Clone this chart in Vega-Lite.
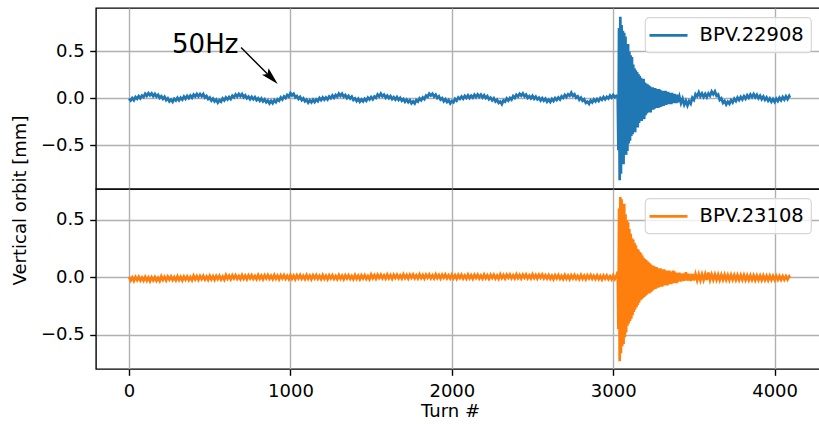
{
  "$schema": "https://vega.github.io/schema/vega-lite/v6.json",
  "background": "white",
  "padding": {"left": 10, "top": 7, "right": 0, "bottom": 0},
  "spacing": 0,
  "bounds": "flush",
  "config": {
    "font": "DejaVu Sans",
    "view": {"stroke": "black", "strokeWidth": 1.4},
    "axis": {
      "labelFont": "DejaVu Sans", "labelFontSize": 18, "labelColor": "black",
      "titleFont": "DejaVu Sans", "titleFontSize": 18, "titleFontWeight": "normal", "titleColor": "black",
      "gridColor": "#b0b0b0", "gridWidth": 1.4, "gridOpacity": 1,
      "tickColor": "black", "tickWidth": 1.4, "tickSize": 6.3,
      "domain": false
    },
    "legend": {
      "orient": "none", "legendX": 549, "legendY": 9.4,
      "padding": 7, "strokeColor": "#d6d6d6", "strokeWidth": 1.2,
      "fillColor": "rgba(255,255,255,0.8)", "cornerRadius": 4,
      "symbolType": "M-2,0H2", "symbolSize": 361, "symbolStrokeWidth": 2.7, "symbolOffset": 5.5,
      "labelOffset": 20, "labelFont": "DejaVu Sans", "labelFontSize": 19.5, "labelColor": "black",
      "title": null
    },
    "text": {"font": "DejaVu Sans"}
  },
  "datasets": {
    "orbit": [
      {"turn":0,"v22908":-0.001,"v23108":0.005},{"turn":10,"v22908":-0.022,"v23108":-0.026},{"turn":20,"v22908":0.004,"v23108":0.0},{"turn":30,"v22908":-0.018,"v23108":-0.03},{"turn":40,"v22908":0.015,"v23108":0.003},
      {"turn":50,"v22908":-0.003,"v23108":-0.023},{"turn":60,"v22908":0.025,"v23108":0.004},{"turn":70,"v22908":0.002,"v23108":-0.027},{"turn":80,"v22908":0.031,"v23108":-0.002},{"turn":90,"v22908":0.015,"v23108":-0.029},
      {"turn":100,"v22908":0.049,"v23108":0.003},{"turn":110,"v22908":0.027,"v23108":-0.028},{"turn":120,"v22908":0.056,"v23108":-0.002},{"turn":130,"v22908":0.033,"v23108":-0.032},{"turn":140,"v22908":0.054,"v23108":0.001},
      {"turn":150,"v22908":0.024,"v23108":-0.025},{"turn":160,"v22908":0.048,"v23108":0.002},{"turn":170,"v22908":0.02,"v23108":-0.029},{"turn":180,"v22908":0.039,"v23108":-0.004},{"turn":190,"v22908":0.005,"v23108":-0.031},
      {"turn":200,"v22908":0.024,"v23108":0.009},{"turn":210,"v22908":-0.005,"v23108":-0.022},{"turn":220,"v22908":0.018,"v23108":0.004},{"turn":230,"v22908":-0.017,"v23108":-0.026},{"turn":240,"v22908":0.001,"v23108":0.007},
      {"turn":250,"v22908":-0.031,"v23108":-0.019},{"turn":260,"v22908":-0.012,"v23108":0.008},{"turn":270,"v22908":-0.036,"v23108":-0.023},{"turn":280,"v22908":-0.003,"v23108":0.002},{"turn":290,"v22908":-0.022,"v23108":-0.025},
      {"turn":300,"v22908":0.006,"v23108":0.009},{"turn":310,"v22908":-0.02,"v23108":-0.022},{"turn":320,"v22908":0.007,"v23108":0.004},{"turn":330,"v22908":-0.012,"v23108":-0.026},{"turn":340,"v22908":0.02,"v23108":0.007},
      {"turn":350,"v22908":-0.003,"v23108":-0.019},{"turn":360,"v22908":0.026,"v23108":0.008},{"turn":370,"v22908":0.004,"v23108":-0.023},{"turn":380,"v22908":0.03,"v23108":0.002},{"turn":390,"v22908":0.008,"v23108":-0.025},
      {"turn":400,"v22908":0.04,"v23108":0.014},{"turn":410,"v22908":0.02,"v23108":-0.017},{"turn":420,"v22908":0.048,"v23108":0.009},{"turn":430,"v22908":0.022,"v23108":-0.021},{"turn":440,"v22908":0.047,"v23108":0.012},
      {"turn":450,"v22908":0.024,"v23108":-0.014},{"turn":460,"v22908":0.046,"v23108":0.013},{"turn":470,"v22908":0.01,"v23108":-0.018},{"turn":480,"v22908":0.026,"v23108":0.007},{"turn":490,"v22908":-0.007,"v23108":-0.02},
      {"turn":500,"v22908":0.01,"v23108":0.014},{"turn":510,"v22908":-0.023,"v23108":-0.017},{"turn":520,"v22908":-0.001,"v23108":0.009},{"turn":530,"v22908":-0.031,"v23108":-0.021},{"turn":540,"v22908":-0.012,"v23108":0.012},
      {"turn":550,"v22908":-0.044,"v23108":-0.014},{"turn":560,"v22908":-0.018,"v23108":0.013},{"turn":570,"v22908":-0.035,"v23108":-0.018},{"turn":580,"v22908":0.0,"v23108":0.007},{"turn":590,"v22908":-0.021,"v23108":-0.02},
      {"turn":600,"v22908":0.01,"v23108":0.019},{"turn":610,"v22908":-0.011,"v23108":-0.012},{"turn":620,"v22908":0.015,"v23108":0.014},{"turn":630,"v22908":-0.006,"v23108":-0.016},{"turn":640,"v22908":0.029,"v23108":0.017},
      {"turn":650,"v22908":0.012,"v23108":-0.009},{"turn":660,"v22908":0.043,"v23108":0.018},{"turn":670,"v22908":0.019,"v23108":-0.013},{"turn":680,"v22908":0.047,"v23108":0.012},{"turn":690,"v22908":0.023,"v23108":-0.015},
      {"turn":700,"v22908":0.047,"v23108":0.019},{"turn":710,"v22908":0.014,"v23108":-0.012},{"turn":720,"v22908":0.034,"v23108":0.014},{"turn":730,"v22908":0.003,"v23108":-0.016},{"turn":740,"v22908":0.02,"v23108":0.017},
      {"turn":750,"v22908":-0.009,"v23108":-0.009},{"turn":760,"v22908":0.017,"v23108":0.018},{"turn":770,"v22908":-0.009,"v23108":-0.013},{"turn":780,"v22908":0.013,"v23108":0.012},{"turn":790,"v22908":-0.019,"v23108":-0.015},
      {"turn":800,"v22908":0.001,"v23108":0.02},{"turn":810,"v22908":-0.025,"v23108":-0.011},{"turn":820,"v22908":0.0,"v23108":0.015},{"turn":830,"v22908":-0.031,"v23108":-0.015},{"turn":840,"v22908":-0.01,"v23108":0.018},
      {"turn":850,"v22908":-0.04,"v23108":-0.008},{"turn":860,"v22908":-0.022,"v23108":0.019},{"turn":870,"v22908":-0.052,"v23108":-0.012},{"turn":880,"v22908":-0.026,"v23108":0.013},{"turn":890,"v22908":-0.05,"v23108":-0.014},
      {"turn":900,"v22908":-0.019,"v23108":0.02},{"turn":910,"v22908":-0.04,"v23108":-0.011},{"turn":920,"v22908":-0.009,"v23108":0.015},{"turn":930,"v22908":-0.024,"v23108":-0.015},{"turn":940,"v22908":0.011,"v23108":0.018},
      {"turn":950,"v22908":-0.011,"v23108":-0.008},{"turn":960,"v22908":0.022,"v23108":0.019},{"turn":970,"v22908":0.005,"v23108":-0.012},{"turn":980,"v22908":0.036,"v23108":0.013},{"turn":990,"v22908":0.019,"v23108":-0.014},
      {"turn":1000,"v22908":0.057,"v23108":0.02},{"turn":1010,"v22908":0.033,"v23108":-0.011},{"turn":1020,"v22908":0.049,"v23108":0.015},{"turn":1030,"v22908":0.011,"v23108":-0.015},{"turn":1040,"v22908":0.025,"v23108":0.018},
      {"turn":1050,"v22908":-0.005,"v23108":-0.008},{"turn":1060,"v22908":0.016,"v23108":0.019},{"turn":1070,"v22908":-0.017,"v23108":-0.012},{"turn":1080,"v22908":0.002,"v23108":0.013},{"turn":1090,"v22908":-0.03,"v23108":-0.014},
      {"turn":1100,"v22908":-0.014,"v23108":0.02},{"turn":1110,"v22908":-0.045,"v23108":-0.011},{"turn":1120,"v22908":-0.019,"v23108":0.015},{"turn":1130,"v22908":-0.041,"v23108":-0.015},{"turn":1140,"v22908":-0.013,"v23108":0.018},
      {"turn":1150,"v22908":-0.038,"v23108":-0.008},{"turn":1160,"v22908":-0.011,"v23108":0.019},{"turn":1170,"v22908":-0.029,"v23108":-0.012},{"turn":1180,"v22908":0.005,"v23108":0.013},{"turn":1190,"v22908":-0.018,"v23108":-0.014},
      {"turn":1200,"v22908":0.01,"v23108":0.019},{"turn":1210,"v22908":-0.013,"v23108":-0.012},{"turn":1220,"v22908":0.01,"v23108":0.014},{"turn":1230,"v22908":-0.012,"v23108":-0.016},{"turn":1240,"v22908":0.021,"v23108":0.017},
      {"turn":1250,"v22908":0.002,"v23108":-0.009},{"turn":1260,"v22908":0.032,"v23108":0.018},{"turn":1270,"v22908":0.008,"v23108":-0.013},{"turn":1280,"v22908":0.036,"v23108":0.012},{"turn":1290,"v22908":0.018,"v23108":-0.015},
      {"turn":1300,"v22908":0.051,"v23108":0.019},{"turn":1310,"v22908":0.027,"v23108":-0.012},{"turn":1320,"v22908":0.05,"v23108":0.014},{"turn":1330,"v22908":0.019,"v23108":-0.016},{"turn":1340,"v22908":0.036,"v23108":0.017},
      {"turn":1350,"v22908":0.004,"v23108":-0.009},{"turn":1360,"v22908":0.027,"v23108":0.018},{"turn":1370,"v22908":0.0,"v23108":-0.013},{"turn":1380,"v22908":0.019,"v23108":0.012},{"turn":1390,"v22908":-0.016,"v23108":-0.015},
      {"turn":1400,"v22908":0.001,"v23108":0.019},{"turn":1410,"v22908":-0.027,"v23108":-0.012},{"turn":1420,"v22908":-0.003,"v23108":0.014},{"turn":1430,"v22908":-0.034,"v23108":-0.016},{"turn":1440,"v22908":-0.011,"v23108":0.017},
      {"turn":1450,"v22908":-0.032,"v23108":-0.009},{"turn":1460,"v22908":-0.004,"v23108":0.018},{"turn":1470,"v22908":-0.025,"v23108":-0.013},{"turn":1480,"v22908":0.008,"v23108":0.012},{"turn":1490,"v22908":-0.012,"v23108":-0.015},
      {"turn":1500,"v22908":0.015,"v23108":0.024},{"turn":1510,"v22908":-0.008,"v23108":-0.007},{"turn":1520,"v22908":0.021,"v23108":0.019},{"turn":1530,"v22908":0.006,"v23108":-0.011},{"turn":1540,"v22908":0.042,"v23108":0.022},
      {"turn":1550,"v22908":0.022,"v23108":-0.004},{"turn":1560,"v22908":0.052,"v23108":0.023},{"turn":1570,"v22908":0.023,"v23108":-0.008},{"turn":1580,"v22908":0.04,"v23108":0.017},{"turn":1590,"v22908":0.008,"v23108":-0.01},
      {"turn":1600,"v22908":0.031,"v23108":0.024},{"turn":1610,"v22908":0.003,"v23108":-0.007},{"turn":1620,"v22908":0.025,"v23108":0.019},{"turn":1630,"v22908":-0.007,"v23108":-0.011},{"turn":1640,"v22908":0.013,"v23108":0.022},
      {"turn":1650,"v22908":-0.012,"v23108":-0.004},{"turn":1660,"v22908":0.014,"v23108":0.023},{"turn":1670,"v22908":-0.016,"v23108":-0.008},{"turn":1680,"v22908":0.006,"v23108":0.017},{"turn":1690,"v22908":-0.024,"v23108":-0.01},
      {"turn":1700,"v22908":-0.006,"v23108":0.025},{"turn":1710,"v22908":-0.036,"v23108":-0.006},{"turn":1720,"v22908":-0.012,"v23108":0.02},{"turn":1730,"v22908":-0.039,"v23108":-0.01},{"turn":1740,"v22908":-0.018,"v23108":0.023},
      {"turn":1750,"v22908":-0.051,"v23108":-0.003},{"turn":1760,"v22908":-0.031,"v23108":0.024},{"turn":1770,"v22908":-0.053,"v23108":-0.007},{"turn":1780,"v22908":-0.016,"v23108":0.018},{"turn":1790,"v22908":-0.033,"v23108":-0.009},
      {"turn":1800,"v22908":0.001,"v23108":0.025},{"turn":1810,"v22908":-0.018,"v23108":-0.006},{"turn":1820,"v22908":0.01,"v23108":0.02},{"turn":1830,"v22908":-0.007,"v23108":-0.01},{"turn":1840,"v22908":0.031,"v23108":0.023},
      {"turn":1850,"v22908":0.017,"v23108":-0.003},{"turn":1860,"v22908":0.051,"v23108":0.024},{"turn":1870,"v22908":0.031,"v23108":-0.007},{"turn":1880,"v22908":0.049,"v23108":0.018},{"turn":1890,"v22908":0.019,"v23108":-0.009},
      {"turn":1900,"v22908":0.04,"v23108":0.025},{"turn":1910,"v22908":0.005,"v23108":-0.006},{"turn":1920,"v22908":0.022,"v23108":0.02},{"turn":1930,"v22908":-0.012,"v23108":-0.01},{"turn":1940,"v22908":0.003,"v23108":0.023},
      {"turn":1950,"v22908":-0.03,"v23108":-0.003},{"turn":1960,"v22908":-0.008,"v23108":0.024},{"turn":1970,"v22908":-0.038,"v23108":-0.007},{"turn":1980,"v22908":-0.019,"v23108":0.018},{"turn":1990,"v22908":-0.053,"v23108":-0.009},
      {"turn":2000,"v22908":-0.027,"v23108":0.023},{"turn":2010,"v22908":-0.041,"v23108":-0.008},{"turn":2020,"v22908":-0.004,"v23108":0.018},{"turn":2030,"v22908":-0.023,"v23108":-0.012},{"turn":2040,"v22908":0.01,"v23108":0.021},
      {"turn":2050,"v22908":-0.006,"v23108":-0.005},{"turn":2060,"v22908":0.02,"v23108":0.022},{"turn":2070,"v22908":-0.004,"v23108":-0.009},{"turn":2080,"v22908":0.027,"v23108":0.016},{"turn":2090,"v22908":0.006,"v23108":-0.011},
      {"turn":2100,"v22908":0.033,"v23108":0.023},{"turn":2110,"v22908":0.005,"v23108":-0.008},{"turn":2120,"v22908":0.029,"v23108":0.018},{"turn":2130,"v22908":0.009,"v23108":-0.012},{"turn":2140,"v22908":0.04,"v23108":0.021},
      {"turn":2150,"v22908":0.015,"v23108":-0.005},{"turn":2160,"v22908":0.042,"v23108":0.022},{"turn":2170,"v22908":0.017,"v23108":-0.009},{"turn":2180,"v22908":0.04,"v23108":0.016},{"turn":2190,"v22908":0.01,"v23108":-0.011},
      {"turn":2200,"v22908":0.034,"v23108":0.023},{"turn":2210,"v22908":0.006,"v23108":-0.008},{"turn":2220,"v22908":0.025,"v23108":0.018},{"turn":2230,"v22908":-0.009,"v23108":-0.012},{"turn":2240,"v22908":0.009,"v23108":0.021},
      {"turn":2250,"v22908":-0.02,"v23108":-0.005},{"turn":2260,"v22908":0.002,"v23108":0.022},{"turn":2270,"v22908":-0.032,"v23108":-0.009},{"turn":2280,"v22908":-0.014,"v23108":0.016},{"turn":2290,"v22908":-0.047,"v23108":-0.011},
      {"turn":2300,"v22908":-0.032,"v23108":0.025},{"turn":2310,"v22908":-0.06,"v23108":-0.006},{"turn":2320,"v22908":-0.021,"v23108":0.02},{"turn":2330,"v22908":-0.034,"v23108":-0.01},{"turn":2340,"v22908":0.0,"v23108":0.023},
      {"turn":2350,"v22908":-0.023,"v23108":-0.003},{"turn":2360,"v22908":0.005,"v23108":0.024},{"turn":2370,"v22908":-0.013,"v23108":-0.007},{"turn":2380,"v22908":0.024,"v23108":0.018},{"turn":2390,"v22908":0.005,"v23108":-0.009},
      {"turn":2400,"v22908":0.038,"v23108":0.025},{"turn":2410,"v22908":0.02,"v23108":-0.006},{"turn":2420,"v22908":0.05,"v23108":0.02},{"turn":2430,"v22908":0.029,"v23108":-0.01},{"turn":2440,"v22908":0.053,"v23108":0.023},
      {"turn":2450,"v22908":0.022,"v23108":-0.003},{"turn":2460,"v22908":0.041,"v23108":0.024},{"turn":2470,"v22908":0.006,"v23108":-0.007},{"turn":2480,"v22908":0.025,"v23108":0.018},{"turn":2490,"v22908":0.001,"v23108":-0.009},
      {"turn":2500,"v22908":0.027,"v23108":0.025},{"turn":2510,"v22908":-0.003,"v23108":-0.006},{"turn":2520,"v22908":0.019,"v23108":0.02},{"turn":2530,"v22908":-0.01,"v23108":-0.01},{"turn":2540,"v22908":0.008,"v23108":0.023},
      {"turn":2550,"v22908":-0.022,"v23108":-0.003},{"turn":2560,"v22908":0.003,"v23108":0.024},{"turn":2570,"v22908":-0.024,"v23108":-0.007},{"turn":2580,"v22908":-0.003,"v23108":0.018},{"turn":2590,"v22908":-0.035,"v23108":-0.009},
      {"turn":2600,"v22908":-0.014,"v23108":0.02},{"turn":2610,"v22908":-0.038,"v23108":-0.011},{"turn":2620,"v22908":-0.006,"v23108":0.015},{"turn":2630,"v22908":-0.027,"v23108":-0.015},{"turn":2640,"v22908":0.004,"v23108":0.018},
      {"turn":2650,"v22908":-0.017,"v23108":-0.008},{"turn":2660,"v22908":0.01,"v23108":0.019},{"turn":2670,"v22908":-0.011,"v23108":-0.012},{"turn":2680,"v22908":0.023,"v23108":0.013},{"turn":2690,"v22908":0.006,"v23108":-0.014},
      {"turn":2700,"v22908":0.037,"v23108":0.02},{"turn":2710,"v22908":0.014,"v23108":-0.011},{"turn":2720,"v22908":0.044,"v23108":0.015},{"turn":2730,"v22908":0.028,"v23108":-0.015},{"turn":2740,"v22908":0.061,"v23108":0.018},
      {"turn":2750,"v22908":0.027,"v23108":-0.008},{"turn":2760,"v22908":0.044,"v23108":0.019},{"turn":2770,"v22908":0.009,"v23108":-0.012},{"turn":2780,"v22908":0.022,"v23108":0.013},{"turn":2790,"v22908":-0.013,"v23108":-0.014},
      {"turn":2800,"v22908":0.008,"v23108":0.02},{"turn":2810,"v22908":-0.024,"v23108":-0.011},{"turn":2820,"v22908":-0.008,"v23108":0.015},{"turn":2830,"v22908":-0.046,"v23108":-0.015},{"turn":2840,"v22908":-0.033,"v23108":0.018},
      {"turn":2850,"v22908":-0.057,"v23108":-0.008},{"turn":2860,"v22908":-0.022,"v23108":0.019},{"turn":2870,"v22908":-0.042,"v23108":-0.012},{"turn":2880,"v22908":-0.011,"v23108":0.013},{"turn":2890,"v22908":-0.032,"v23108":-0.014},
      {"turn":2900,"v22908":-0.006,"v23108":0.017},{"turn":2910,"v22908":-0.028,"v23108":-0.014},{"turn":2920,"v22908":0.005,"v23108":0.012},{"turn":2930,"v22908":-0.014,"v23108":-0.018},{"turn":2940,"v22908":0.015,"v23108":0.015},
      {"turn":2950,"v22908":-0.01,"v23108":-0.011},{"turn":2960,"v22908":0.017,"v23108":0.016},{"turn":2970,"v22908":-0.001,"v23108":-0.015},{"turn":2980,"v22908":0.032,"v23108":0.01},{"turn":2990,"v22908":0.009,"v23108":-0.017},
      {"turn":3000,"v22908":0.037,"v23108":0.017},{"turn":3010,"v22908":0.013,"v23108":-0.014},{"turn":3020,"v22908":0.028,"v23108":0.012},
      {"turn":3028,"v22908":0.02,"v23108":0.05},{"turn":3032,"v22908":-0.55,"v23108":-0.45},{"turn":3036,"v22908":0.75,"v23108":0.6},{"turn":3040,"v22908":-0.87,"v23108":-0.73},
      {"turn":3044,"v22908":0.87,"v23108":0.7},{"turn":3048,"v22908":-0.8,"v23108":-0.66},{"turn":3052,"v22908":0.78,"v23108":0.68},{"turn":3056,"v22908":-0.62,"v23108":-0.6},
      {"turn":3060,"v22908":0.72,"v23108":0.62},{"turn":3064,"v22908":-0.7,"v23108":-0.58},{"turn":3068,"v22908":0.7,"v23108":0.64},{"turn":3072,"v22908":-0.58,"v23108":-0.52},
      {"turn":3076,"v22908":0.66,"v23108":0.55},{"turn":3080,"v22908":-0.6,"v23108":-0.48},{"turn":3084,"v22908":0.55,"v23108":0.5},{"turn":3088,"v22908":-0.56,"v23108":-0.42},
      {"turn":3092,"v22908":0.58,"v23108":0.48},{"turn":3096,"v22908":-0.48,"v23108":-0.4},{"turn":3100,"v22908":0.5,"v23108":0.42},{"turn":3104,"v22908":-0.45,"v23108":-0.38},
      {"turn":3108,"v22908":0.46,"v23108":0.38},{"turn":3112,"v22908":-0.4,"v23108":-0.36},{"turn":3116,"v22908":0.44,"v23108":0.34},{"turn":3120,"v22908":-0.38,"v23108":-0.33},
      {"turn":3124,"v22908":0.36,"v23108":0.33},{"turn":3128,"v22908":-0.34,"v23108":-0.3},{"turn":3132,"v22908":0.32,"v23108":0.3},{"turn":3136,"v22908":-0.36,"v23108":-0.28},
      {"turn":3140,"v22908":0.3,"v23108":0.28},{"turn":3144,"v22908":-0.3,"v23108":-0.26},{"turn":3148,"v22908":0.28,"v23108":0.25},{"turn":3152,"v22908":-0.31,"v23108":-0.24},
      {"turn":3156,"v22908":0.26,"v23108":0.24},{"turn":3160,"v22908":-0.26,"v23108":-0.22},{"turn":3164,"v22908":0.24,"v23108":0.22},{"turn":3168,"v22908":-0.22,"v23108":-0.2},
      {"turn":3172,"v22908":0.22,"v23108":0.21},{"turn":3176,"v22908":-0.24,"v23108":-0.19},{"turn":3180,"v22908":0.2,"v23108":0.19},{"turn":3184,"v22908":-0.2,"v23108":-0.18},
      {"turn":3188,"v22908":0.21,"v23108":0.17},{"turn":3192,"v22908":-0.22,"v23108":-0.17},{"turn":3196,"v22908":0.17,"v23108":0.16},{"turn":3200,"v22908":-0.18,"v23108":-0.16},
      {"turn":3204,"v22908":0.16,"v23108":0.15},{"turn":3208,"v22908":-0.16,"v23108":-0.15},{"turn":3212,"v22908":0.15,"v23108":0.14},{"turn":3216,"v22908":-0.15,"v23108":-0.14},
      {"turn":3220,"v22908":0.14,"v23108":0.13},{"turn":3224,"v22908":-0.14,"v23108":-0.14},{"turn":3228,"v22908":0.13,"v23108":0.12},{"turn":3232,"v22908":-0.15,"v23108":-0.13},
      {"turn":3236,"v22908":0.12,"v23108":0.11},{"turn":3240,"v22908":-0.12,"v23108":-0.12},{"turn":3244,"v22908":0.12,"v23108":0.1},{"turn":3248,"v22908":-0.12,"v23108":-0.11},
      {"turn":3252,"v22908":0.11,"v23108":0.1},{"turn":3256,"v22908":-0.11,"v23108":-0.1},{"turn":3260,"v22908":0.11,"v23108":0.09},{"turn":3264,"v22908":-0.1,"v23108":-0.1},
      {"turn":3268,"v22908":0.1,"v23108":0.09},{"turn":3272,"v22908":-0.1,"v23108":-0.09},{"turn":3276,"v22908":0.09,"v23108":0.08},{"turn":3280,"v22908":-0.1,"v23108":-0.09},
      {"turn":3284,"v22908":0.1,"v23108":0.08},{"turn":3288,"v22908":-0.09,"v23108":-0.08},{"turn":3292,"v22908":0.09,"v23108":0.08},{"turn":3296,"v22908":-0.09,"v23108":-0.08},
      {"turn":3300,"v22908":0.08,"v23108":0.07},{"turn":3304,"v22908":-0.08,"v23108":-0.08},{"turn":3308,"v22908":0.08,"v23108":0.07},{"turn":3312,"v22908":-0.08,"v23108":-0.07},
      {"turn":3316,"v22908":0.07,"v23108":0.07},{"turn":3320,"v22908":-0.07,"v23108":-0.07},{"turn":3324,"v22908":0.08,"v23108":0.06},{"turn":3328,"v22908":-0.07,"v23108":-0.07},
      {"turn":3332,"v22908":0.07,"v23108":0.06},{"turn":3336,"v22908":-0.06,"v23108":-0.07},{"turn":3340,"v22908":0.07,"v23108":0.06},{"turn":3344,"v22908":-0.06,"v23108":-0.06},
      {"turn":3348,"v22908":0.06,"v23108":0.06},{"turn":3352,"v22908":-0.06,"v23108":-0.06},{"turn":3356,"v22908":0.06,"v23108":0.05},{"turn":3360,"v22908":-0.06,"v23108":-0.06},
      {"turn":3364,"v22908":0.06,"v23108":0.05},{"turn":3368,"v22908":-0.05,"v23108":-0.05},{"turn":3372,"v22908":0.05,"v23108":0.06},{"turn":3376,"v22908":-0.05,"v23108":-0.05},
      {"turn":3380,"v22908":0.05,"v23108":0.05},{"turn":3384,"v22908":-0.05,"v23108":-0.05},{"turn":3388,"v22908":0.04,"v23108":0.04},{"turn":3392,"v22908":-0.05,"v23108":-0.05},
      {"turn":3396,"v22908":0.04,"v23108":0.04},{"turn":3400,"v22908":-0.04,"v23108":-0.04},
      {"turn":3410,"v22908":0.02,"v23108":0.04},{"turn":3420,"v22908":-0.05,"v23108":-0.035},{"turn":3430,"v22908":-0.002,"v23108":0.033},{"turn":3440,"v22908":-0.065,"v23108":-0.03},
      {"turn":3450,"v22908":-0.025,"v23108":0.045},{"turn":3460,"v22908":-0.075,"v23108":-0.028},{"turn":3470,"v22908":-0.028,"v23108":0.032},{"turn":3480,"v22908":-0.055,"v23108":-0.03},
      {"turn":3490,"v22908":0.007,"v23108":0.03},{"turn":3500,"v22908":-0.015,"v23108":-0.026},{"turn":3510,"v22908":0.045,"v23108":0.028},{"turn":3520,"v22908":0.022,"v23108":-0.025},
      {"turn":3530,"v22908":0.065,"v23108":0.027},{"turn":3540,"v22908":0.022,"v23108":-0.024},{"turn":3550,"v22908":0.053,"v23108":0.026},{"turn":3560,"v22908":0.016,"v23108":-0.022},
      {"turn":3570,"v22908":0.048,"v23108":0.028},{"turn":3580,"v22908":0.014,"v23108":-0.023},{"turn":3590,"v22908":0.053,"v23108":0.042},{"turn":3600,"v22908":0.029,"v23108":-0.022},
      {"turn":3610,"v22908":0.073,"v23108":0.024},{"turn":3620,"v22908":0.044,"v23108":-0.02},{"turn":3630,"v22908":0.075,"v23108":0.025},{"turn":3640,"v22908":0.029,"v23108":-0.021},
      {"turn":3650,"v22908":0.042,"v23108":0.023},{"turn":3660,"v22908":-0.016,"v23108":-0.022},{"turn":3670,"v22908":0.001,"v23108":0.022},{"turn":3680,"v22908":-0.046,"v23108":-0.02},
      {"turn":3690,"v22908":-0.026,"v23108":0.023},{"turn":3700,"v22908":-0.065,"v23108":-0.021},{"turn":3710,"v22908":-0.034,"v23108":0.02},{"turn":3720,"v22908":-0.057,"v23108":-0.022},
      {"turn":3730,"v22908":-0.019,"v23108":0.021},{"turn":3740,"v22908":-0.043,"v23108":-0.02},{"turn":3750,"v22908":-0.004,"v23108":0.02},{"turn":3760,"v22908":-0.028,"v23108":-0.021},
      {"turn":3770,"v22908":0.009,"v23108":0.019},{"turn":3780,"v22908":-0.017,"v23108":-0.022},{"turn":3790,"v22908":0.016,"v23108":0.018},{"turn":3800,"v22908":-0.011,"v23108":-0.021},
      {"turn":3810,"v22908":0.024,"v23108":0.019},{"turn":3820,"v22908":-0.003,"v23108":-0.022},{"turn":3830,"v22908":0.033,"v23108":0.017},{"turn":3840,"v22908":0.007,"v23108":-0.023},
      {"turn":3850,"v22908":0.042,"v23108":0.016},{"turn":3860,"v22908":0.014,"v23108":-0.022},{"turn":3870,"v22908":0.046,"v23108":0.016},{"turn":3880,"v22908":0.013,"v23108":-0.024},
      {"turn":3890,"v22908":0.039,"v23108":0.015},{"turn":3900,"v22908":0.002,"v23108":-0.022},{"turn":3910,"v22908":0.028,"v23108":0.014},{"turn":3920,"v22908":-0.007,"v23108":-0.023},
      {"turn":3930,"v22908":0.021,"v23108":0.015},{"turn":3940,"v22908":-0.015,"v23108":-0.022},{"turn":3950,"v22908":0.011,"v23108":0.013},{"turn":3960,"v22908":-0.025,"v23108":-0.024},
      {"turn":3970,"v22908":0.001,"v23108":0.014},{"turn":3980,"v22908":-0.034,"v23108":-0.022},{"turn":3990,"v22908":-0.006,"v23108":0.012},{"turn":4000,"v22908":-0.036,"v23108":-0.021},
      {"turn":4010,"v22908":-0.002,"v23108":0.012},{"turn":4020,"v22908":-0.028,"v23108":-0.02},{"turn":4030,"v22908":0.008,"v23108":0.011},{"turn":4040,"v22908":-0.019,"v23108":-0.02},
      {"turn":4050,"v22908":0.016,"v23108":0.01},{"turn":4060,"v22908":-0.012,"v23108":-0.019},{"turn":4070,"v22908":0.022,"v23108":0.01},{"turn":4080,"v22908":-0.007,"v23108":-0.018},
      {"turn":4090,"v22908":0.026,"v23108":0.008},{"turn":4095,"v22908":0.008,"v23108":-0.005}
    ]
  },
  "resolve": {
    "scale": {"x": "independent", "y": "independent", "color": "independent"},
    "axis": {"x": "independent", "y": "independent"},
    "legend": {"color": "independent"}
  },
  "vconcat": [
    {
      "width": 724,
      "height": 181,
      "layer": [
        {
          "data": {"name": "orbit"},
          "mark": {"type": "line", "strokeWidth": 2.7},
          "encoding": {
            "x": {
              "field": "turn", "type": "quantitative",
              "scale": {"domain": [-204.75, 4281.2], "nice": false, "zero": false},
              "axis": {"values": [0, 1000, 2000, 3000, 4000], "labels": false, "ticks": false, "title": null, "grid": true}
            },
            "y": {
              "field": "v22908", "type": "quantitative",
              "scale": {"domain": [-0.963, 0.962], "nice": false, "zero": false},
              "axis": {
                "values": [-0.5, 0, 0.5], "format": ".1f", "grid": true, "labelPadding": 5.5,
                "title": "Vertical orbit [mm]", "titleAngle": 270, "titleAlign": "center",
                "titleBaseline": "alphabetic", "titleX": -70.6, "titleY": 192
              }
            },
            "color": {"datum": "BPV.22908", "type": "nominal", "scale": {"range": ["#1f77b4"]}}
          }
        },
        {
          "data": {"values": [{"turn": 694, "v22908": 0.542, "turn2": 858, "v2": 0.261}]},
          "mark": {"type": "rule", "color": "black", "strokeWidth": 1.4},
          "encoding": {
            "x": {"field": "turn", "type": "quantitative"},
            "y": {"field": "v22908", "type": "quantitative"},
            "x2": {"field": "turn2"},
            "y2": {"field": "v2"}
          }
        },
        {
          "data": {"values": [{"turn": 873, "v22908": 0.236}]},
          "mark": {
            "type": "point", "shape": "M0,-1L0.42,0.6L0,0.3L-0.42,0.6Z", "size": 484,
            "angle": 135, "filled": true, "color": "black", "opacity": 1, "strokeWidth": 0
          },
          "encoding": {
            "x": {"field": "turn", "type": "quantitative"},
            "y": {"field": "v22908", "type": "quantitative"}
          }
        },
        {
          "data": {"values": [{"turn": 472, "v22908": 0.483, "label": "50Hz"}]},
          "mark": {"type": "text", "fontSize": 26, "color": "black", "align": "center", "baseline": "alphabetic"},
          "encoding": {
            "x": {"field": "turn", "type": "quantitative"},
            "y": {"field": "v22908", "type": "quantitative"},
            "text": {"field": "label"}
          }
        }
      ]
    },
    {
      "width": 724,
      "height": 180,
      "data": {"name": "orbit"},
      "mark": {"type": "line", "strokeWidth": 2.7},
      "encoding": {
        "x": {
          "field": "turn", "type": "quantitative",
          "scale": {"domain": [-204.75, 4281.2], "nice": false, "zero": false},
          "axis": {
            "values": [0, 1000, 2000, 3000, 4000], "format": "d", "grid": true, "labelPadding": 7,
            "title": "Turn #", "titleAlign": "center", "titleBaseline": "alphabetic", "titleX": 354, "titleY": 47.7
          }
        },
        "y": {
          "field": "v23108", "type": "quantitative",
          "scale": {"domain": [-0.797, 0.769], "nice": false, "zero": false},
          "axis": {"values": [-0.5, 0, 0.5], "format": ".1f", "grid": true, "labelPadding": 5.5, "title": null}
        },
        "color": {"datum": "BPV.23108", "type": "nominal", "scale": {"range": ["#ff7f0e"]}}
      }
    }
  ]
}
